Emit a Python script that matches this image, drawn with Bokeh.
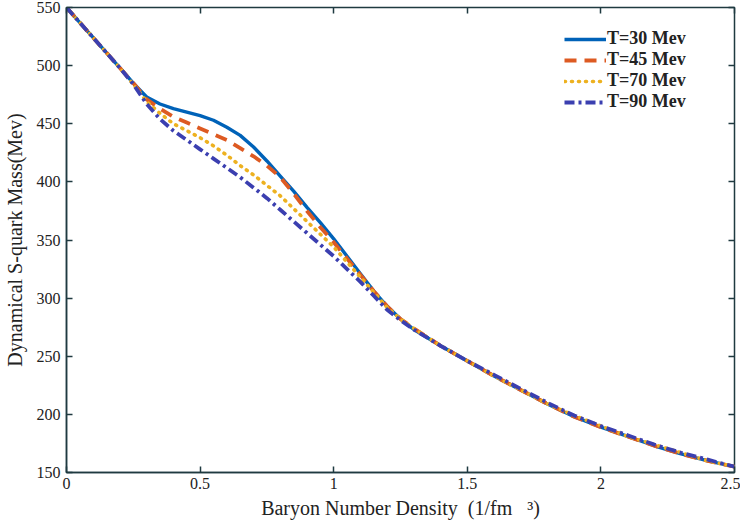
from bokeh.plotting import figure
from bokeh.models import Range1d, FixedTicker, LinearAxis, Legend, LegendItem
from bokeh.embed import file_html
from bokeh.resources import INLINE

# ---- data ----
density = [0, 0.05, 0.1, 0.15, 0.2, 0.25, 0.3, 0.35, 0.4, 0.45, 0.5, 0.55, 0.6, 0.65,
           0.7, 0.75, 0.8, 0.85, 0.9, 0.95, 1.0, 1.05, 1.1, 1.15, 1.2, 1.25, 1.3,
           1.4, 1.5, 1.6, 1.7, 1.8, 1.9, 2.0, 2.1, 2.2, 2.3, 2.4, 2.5]

mass_T30 = [550, 537, 524, 511, 498, 485, 473, 467, 463, 460, 457, 453, 447, 440,
            430, 418, 405, 392, 378, 365, 351, 336, 321, 306, 293, 282, 273,
            259, 246, 233, 221, 209, 198, 189, 181, 173, 166, 160, 155]
mass_T45 = [550, 537, 524, 511, 498, 485, 471, 463, 456, 451, 446, 441, 436, 429,
            422, 414, 404, 390, 375, 361, 348, 334, 320, 306, 293, 282, 274,
            259, 246, 233, 221, 209, 198, 189, 181, 173, 166, 160, 155]
mass_T70 = [550, 537, 524, 511, 498, 484, 469, 459, 450, 444, 438, 431, 423, 414,
            406, 397, 388, 377, 366, 355, 344, 331, 318, 305, 292, 282, 274,
            259, 246, 233, 221, 209, 199, 190, 181, 174, 167, 160, 155]
mass_T90 = [550, 537, 524, 511, 498, 484, 467, 454, 444, 436, 428, 420, 412, 404,
            395, 386, 376, 366, 356, 346, 336, 325, 314, 302, 290, 281, 273,
            259, 246, 234, 222, 210, 199, 190, 182, 174, 167, 161, 155]

series_labels = ["T=30 Mev", "T=45 Mev", "T=70 Mev", "T=90 Mev"]
x_ticks = [0, 0.5, 1, 1.5, 2, 2.5]
x_tick_labels = ["0", "0.5", "1", "1.5", "2", "2.5"]
y_ticks = [150, 200, 250, 300, 350, 400, 450, 500, 550]

# ---- figure ----
AX = "#1f3a40"
TXT = "#222222"
SERIF = "Liberation Serif"

p = figure(width=740, height=521, output_backend="svg", toolbar_location=None,
           x_range=Range1d(0, 2.5), y_range=Range1d(150, 550),
           min_border_left=65, min_border_right=6, min_border_top=7, min_border_bottom=49)
p.background_fill_color = "white"
p.border_fill_color = "white"
p.outline_line_color = AX
p.outline_line_width = 1.5
p.grid.visible = False

xa = p.xaxis[0]
ya = p.yaxis[0]
xa.ticker = FixedTicker(ticks=x_ticks)
xa.major_label_overrides = {t: l for t, l in zip(x_ticks, x_tick_labels)}
ya.ticker = FixedTicker(ticks=y_ticks)
for ax in (xa, ya):
    ax.axis_line_color = AX
    ax.axis_line_width = 1.5
    ax.major_tick_line_color = AX
    ax.major_tick_line_width = 1.5
    ax.major_tick_in = 6
    ax.major_tick_out = 0
    ax.minor_tick_line_color = None
    ax.major_label_text_font = SERIF
    ax.major_label_text_font_size = "16px"
    ax.major_label_text_color = TXT
    ax.axis_label_text_font = SERIF
    ax.axis_label_text_font_size = "20px"
    ax.axis_label_text_font_style = "normal"
    ax.axis_label_text_color = TXT
xa.major_label_standoff = 5
ya.major_label_standoff = 6
xa.axis_label = "Baryon Number Density\u00a0\u00a0(1/fm\u00a0\u00a0\u00a0\u00b3)"
ya.axis_label = "Dynamical S-quark Mass(Mev)"
xa.axis_label_standoff = 5
ya.axis_label_standoff = 8

# ticks on the right and top
ra = LinearAxis(ticker=FixedTicker(ticks=y_ticks))
ta = LinearAxis(ticker=FixedTicker(ticks=x_ticks))
for ax in (ra, ta):
    ax.axis_line_color = None
    ax.major_tick_line_color = AX
    ax.major_tick_line_width = 1.5
    ax.major_tick_in = 6
    ax.major_tick_out = 0
    ax.minor_tick_line_color = None
    ax.major_label_text_font_size = "0px"
    ax.major_label_standoff = 0
p.add_layout(ra, "right")
p.add_layout(ta, "above")

r1 = p.line(density, mass_T30, line_color="#0062b8", line_width=3.4)
r2 = p.line(density, mass_T45, line_color="#dd5a22", line_width=3.8, line_dash="12 8")
r3 = p.line(density, mass_T70, line_color="#edb120", line_width=3.6, line_dash="1 6",
            line_cap="round")
r4 = p.line(density, mass_T90, line_color="#3b3fb0", line_width=3.8, line_dash="10 4 3 4")

legend = Legend(items=[LegendItem(label=l, renderers=[r]) for l, r in
                       zip(series_labels, [r1, r2, r3, r4])],
                location=(498, 360))
legend.label_text_font = SERIF
legend.label_text_font_size = "18px"
legend.label_text_font_style = "bold"
legend.label_text_color = TXT
legend.label_text_line_height = 1.0
legend.glyph_width = 42
legend.glyph_height = 14
legend.label_height = 14
legend.spacing = -2
legend.padding = 5
legend.margin = 0
legend.label_standoff = 1
legend.border_line_color = None
legend.background_fill_color = "white"
legend.background_fill_alpha = 1
p.add_layout(legend, "center")

open("out.html", "w").write(file_html(p, INLINE))
